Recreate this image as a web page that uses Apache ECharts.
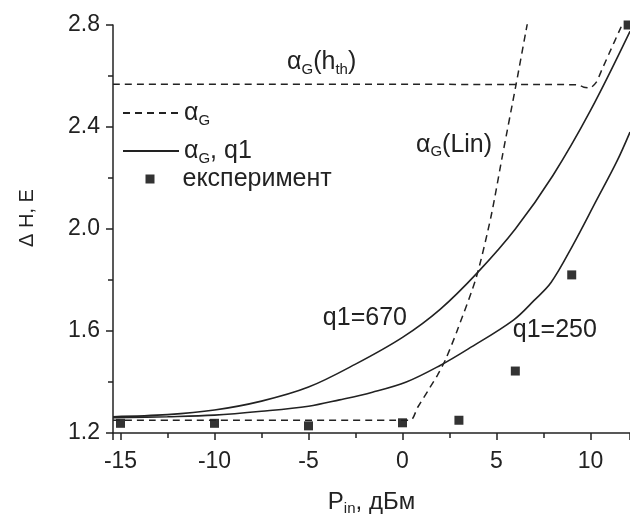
<!DOCTYPE html>
<html>
<head>
<meta charset="utf-8">
<script src="https://cdn.jsdelivr.net/npm/echarts@6/dist/echarts.min.js"></script>
<style>
  html, body { margin: 0; padding: 0; background: #fff; }
  #chart { width: 630px; height: 515px; }
</style>
</head>
<body>
<div id="chart"></div>
<script>
// експеримент
const pinExp = [-15, -10, -5, 0, 3, 6, 9, 12]
const dhExp = [1.238, 1.238, 1.228, 1.24, 1.25, 1.443, 1.82, 2.8]

// alpha_G(Lin)
const pinLin = [-15.4, 0.4, 0.8, 1.44, 1.86, 2.3, 2.9, 3.93, 4.71, 5.32, 6.04, 6.65]
const dhLin = [1.25, 1.25, 1.30, 1.376, 1.427, 1.49, 1.60, 1.812, 2.05, 2.29, 2.567, 2.81]

// alpha_G(h_th)
const pinHth = [-15.4, 9.3, 9.65, 9.95, 10.3, 10.6, 11.0, 11.55, 11.8]
const dhHth = [2.568, 2.566, 2.556, 2.553, 2.575, 2.624, 2.69, 2.78, 2.82]

// q1 = 670
const pin670 = [-15.4, -12.5, -10, -7.5, -5, -2.5, 0, 2, 4, 6, 8, 10, 12.1]
const dh670 = [1.264, 1.272, 1.29, 1.325, 1.38, 1.47, 1.575, 1.685, 1.83, 2.0, 2.21, 2.465, 2.775]

// q1 = 250
const pin250 = [-15.4, -12.5, -10, -7.5, -5, -3.35, -1.6, 0.2, 2.0, 3.5, 5.9, 7.0, 7.9, 9.05, 10.3, 11.4, 12.1]
const dh250 = [1.26, 1.264, 1.27, 1.285, 1.305, 1.33, 1.36, 1.40, 1.465, 1.53, 1.643, 1.72, 1.79, 1.935, 2.11, 2.265, 2.38]

const ink = '#222'
const font = "'Liberation Sans', Arial, sans-serif"
const sub = { fontSize: 15, lineHeight: 14, verticalAlign: 'bottom', color: ink, fontFamily: font }
const txt = { fontSize: 25, lineHeight: 30, color: ink, fontFamily: font, rich: { s: sub } }
const nameTxt = { fontSize: 24, lineHeight: 28, color: ink, fontFamily: font, rich: { s: sub } }

const legendText = {
  aG: 'α{s|G}',
  aGq1: 'α{s|G}, q1',
  exp: 'експеримент'
}

function zip(xs, ys) {
  return xs.map((x, i) => [x, ys[i]])
}

function note(text, x, y) {
  return {
    symbol: 'rect',
    symbolSize: 1,
    silent: true,
    itemStyle: { color: 'rgba(0,0,0,0)' },
    label: Object.assign({ show: true, position: 'inside', formatter: text }, txt),
    data: [{ coord: [x, y] }]
  }
}

// лінії в легенді без точки
function lineLegend(name, top) {
  return {
    data: [name],
    left: 122,
    top: top,
    padding: 0,
    itemWidth: 56,
    itemHeight: 9,
    selectedMode: false,
    itemStyle: { color: 'rgba(0,0,0,0)', borderWidth: 0 },
    formatter: n => legendText[n],
    textStyle: txt
  }
}

const dashed = { color: ink, width: 1.5, type: [7, 5] }
const solid = { color: ink, width: 1.6 }

const chart = echarts.init(document.getElementById('chart'))
chart.setOption({
  animation: false,
  backgroundColor: '#fff',
  grid: { left: 113, right: 0, top: 25, bottom: 82, outerBoundsMode: 'none' },
  legend: [
    lineLegend('aG', 98),
    lineLegend('aGq1', 136),
    {
      data: [{ name: 'exp', icon: 'rect' }],
      left: 145.5,
      top: 164,
      padding: 0,
      itemWidth: 9,
      itemHeight: 9,
      selectedMode: false,
      formatter: n => legendText[n],
      textStyle: Object.assign({ padding: [0, 0, 0, 23] }, txt)
    }
  ],
  xAxis: {
    type: 'value',
    min: -15.4,
    max: 12.1,
    splitNumber: 5,
    splitLine: { show: false },
    axisLine: { onZero: false, lineStyle: { color: ink, width: 1.5 } },
    axisTick: { length: 7, lineStyle: { color: ink, width: 1.5 } },
    minorTick: { show: true, splitNumber: 2, length: 5, lineStyle: { color: ink, width: 1.5 } },
    axisLabel: {
      margin: 17, fontSize: 23, color: ink, fontFamily: font,
      formatter: v => (Math.abs(v % 5) < 1e-9 ? String(v) : '')
    },
    name: 'P{s|in}, дБм',
    nameLocation: 'middle',
    nameGap: 55,
    nameTextStyle: nameTxt
  },
  yAxis: {
    type: 'value',
    min: 1.2,
    max: 2.8,
    interval: 0.4,
    splitLine: { show: false },
    axisLine: { show: true, onZero: false, lineStyle: { color: ink, width: 1.5 } },
    axisTick: { show: true, length: 7, lineStyle: { color: ink, width: 1.5 } },
    minorTick: { show: true, splitNumber: 2, length: 5, lineStyle: { color: ink, width: 1.5 } },
    axisLabel: {
      margin: 13, fontSize: 23, color: ink, fontFamily: font,
      formatter: v => v.toFixed(1)
    },
    name: 'Δ H, E',
    nameLocation: 'middle',
    nameGap: 76,
    nameTextStyle: { fontSize: 20, color: ink, fontFamily: font, padding: [0, 0, 0, 22] }
  },
  series: [
    {
      name: 'aG',
      type: 'line',
      data: zip(pinLin, dhLin),
      symbol: 'none',
      smooth: 0.25,
      lineStyle: dashed,
      itemStyle: { color: ink },
      markPoint: note('α{s|G}(Lin)', 2.74, 2.33)
    },
    {
      name: 'aG',
      type: 'line',
      data: zip(pinHth, dhHth),
      symbol: 'none',
      smooth: 0.25,
      lineStyle: dashed,
      itemStyle: { color: ink },
      markPoint: note('α{s|G}(h{s|th})', -4.3, 2.655)
    },
    {
      name: 'aGq1',
      type: 'line',
      data: zip(pin670, dh670),
      symbol: 'none',
      smooth: 0.35,
      lineStyle: solid,
      itemStyle: { color: ink },
      markPoint: note('q1=670', -2.0, 1.65)
    },
    {
      name: 'aGq1',
      type: 'line',
      data: zip(pin250, dh250),
      symbol: 'none',
      smooth: 0.35,
      lineStyle: solid,
      itemStyle: { color: ink },
      markPoint: note('q1=250', 8.1, 1.603)
    },
    {
      name: 'exp',
      type: 'scatter',
      data: zip(pinExp, dhExp),
      symbol: 'rect',
      symbolSize: 9,
      clip: false,
      itemStyle: { color: '#000' }
    }
  ]
})
</script>
</body>
</html>
